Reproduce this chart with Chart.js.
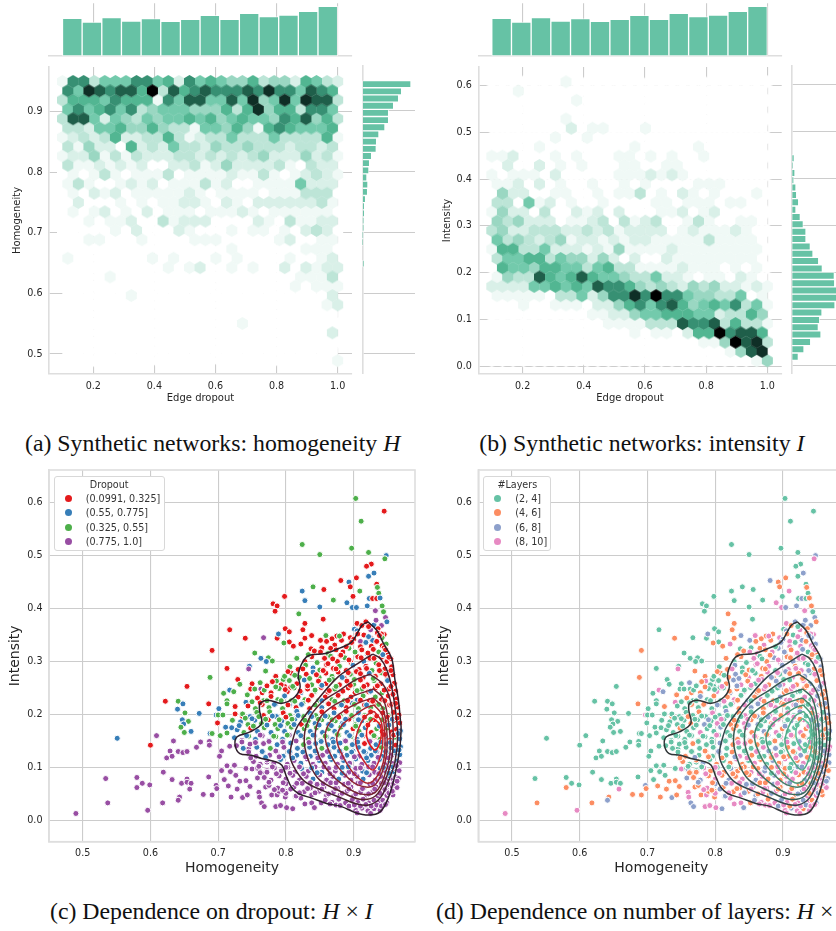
<!DOCTYPE html>
<html>
<head>
<meta charset="utf-8">
<title>Homogeneity and intensity</title>
<script src="https://cdn.jsdelivr.net/npm/chart.js@4/dist/chart.umd.min.js"></script>
<style>
  html, body { margin: 0; padding: 0; background: #fff; width: 836px; height: 931px; overflow: hidden; }
  body { position: relative; }
  canvas { position: absolute; }
  .caption { position: absolute; font-family: "Liberation Serif", serif; font-size: 23.8px; color: #111; white-space: nowrap; }
  .legend { position: absolute; top: 475.5px; height: 75px; box-sizing: border-box; border: 1px solid #d8d8d8; border-radius: 3px; background: #fff;
            font-family: "DejaVu Sans", sans-serif; font-size: 9.6px; color: #333; }
  .legend div { position: absolute; white-space: nowrap; line-height: 12px; }
  .legend i { position: absolute; width: 7px; height: 7px; border-radius: 50%; }
</style>
</head>
<body>
<script>
// Top and side histograms, bar heights
const dropoutHist = [113, 102, 115, 105, 112, 104, 110, 122, 110, 128, 118, 123, 134, 149];
const homogeneityHist = [146, 118, 109, 94, 79, 79, 68, 50, 43, 42, 28, 22, 20, 14, 17, 16, 10, 7, 7, 5, 5, 3, 2, 0, 0, 6];
const intensityHist = [0, 0, 0, 0, 0, 0, 0, 0, 0, 0, 8, 3, 10, 7, 13, 15, 21, 13, 26, 35, 43, 43, 56, 64, 81, 92, 128, 129, 140, 138, 130, 91, 84, 80, 88, 57, 37, 20];

// Hexbin shades per cell, top row first, one hex digit per cell (missing = empty)
const hexHomogeneity = [
  "177355577562756544634426532", "75987886a38678777879775876", "366657666175885585945959883",
  "57567573455544463694663775", "388525435455656456554768463", "33255644643315546416765556",
  "123236223363123353335333361", "31422062325332433433323323", "122413132223323232342224231",
  "31121212002231242222310322", "010131011130111121131012321", "13100121201113120011115222",
  "010212011111210111101113330", "02000101011221021022222231", "010120102011101112101111110",
  "00101120031222000021031122", "000001020002100010110102320", "00110001000011100000120011",
  "000000000000000010000001110", "10000000101000101000010012", "000000000010120010100202122",
  "00001000000000000000001113", "000000000000000000000010111", "00000010000000000000000002",
  "000000000000000000000000012", "", "00000000000000000100", "00000000000000000000000002", "", "", "000000000000000000000000001"
];
const hexIntensity = [
  "00000001", "001", "000000001", "", "00000001", "000000020110001", "0000001001", "00001000000001000001",
  "112000101000110101001", "02002010100011001100", "10111020000011121210", "1120201001001010000111",
  "042200110010113010210100010", "330512010010000110111011", "1422030021202000112012",
  "43422201123031230013100110", "342233322323122220121112100", "53432341221212211111311110",
  "166335222121411112111111110", "35566354424202002111111110", "065546655356331111211101010",
  "14338656865543352210110210", "222255656587764343243422121", "111110335247797a7754433501",
  "000100111022467578645657351", "00000000011224556665523364", "000000000001111333877836331",
  "000000000000010110266a7886", "00000000000000000000114a893", "00000000000000000000001489", "000000000000000000000000014"
];

// Scatter points, thousandths. Outer points read one by one, the dense core is estimated band by band.
const homogeneity = [
  903,945,911,824,850,897,922,948,946,926, 919,930,922,881,893,904,895,934,935,909,
  937,899,923,928,934,939,942,920,898,904, 890,944,932,947,949,941,945,824,840,856,
  828,870,798,781,787,784,850,819,855,828, 825,799,805,717,740,767,787,789,805,811,
  797,822,828,838,859,837,851,852,691,754, 763,774,771,780,746,745,770,713,688,729,
  732,654,750,762,785,786,796,798,807,717, 723,708,748,754,763,765,743,622,641,648,
  640,651,672,686,701,713,713,697,700,707, 647,656,649,645,699,650,660,551,600,609,
  634,674,687,687,668,629,641,648,654,624, 632,705,702,717,688,691,703,711,720,713,
  721,725,736,725,741,619,580,588,580,599, 534,537,490,596,618,632,646,654,654,660,
  658,643,641,678,691,686,697,698,705,709, 715,719,718,724,713,726,728,732,741,736,
  743,747,741,750,758,758,766,772,770,760, 761,764,768,785,792,801,810,779,787,799,
  790,799,814,822,828,838,842,852,772,745,
  905,912,918,925,930,936,941,901,933,922,
  885,895,905,915,925,935,942,875,910,928,
  860,872,882,892,900,910,918,926,934,942,948,866,
  842,853,862,874,884,893,903,912,920,929,937,945,950,880,
  816,828,838,846,857,866,876,887,896,906,915,924,933,941,949,955,
  806,818,829,840,850,860,870,879,889,899,908,918,927,937,946,956,
  798,808,820,830,840,849,859,868,877,886,895,904,914,923,932,941,950,958,
  780,793,805,816,827,838,848,859,869,879,890,900,910,920,930,940,950,960,
  768,778,790,802,812,822,832,842,852,862,872,882,892,902,912,922,932,942,952,962,
  758,767,778,788,798,808,818,828,838,848,858,868,877,886,896,905,914,923,932,941,951,963,
  744,755,765,775,785,795,805,815,825,835,844,853,862,871,880,889,898,907,916,925,934,943,953,965,
  736,747,757,767,776,786,796,806,816,826,835,844,853,862,871,880,889,898,907,916,925,934,943,951,959,967,
  733,744,754,764,774,784,794,803,813,823,833,843,853,863,873,883,893,903,912,921,930,938,946,953,960,968,
  728,738,748,758,768,778,788,798,808,818,827,836,845,854,863,872,881,890,899,908,917,926,934,942,949,956,963,969,
  724,735,745,755,765,775,785,795,805,815,824,833,842,851,860,869,878,887,896,905,914,923,931,939,947,954,961,968,
  727,737,747,757,767,777,787,797,807,817,826,835,844,853,862,871,880,889,898,907,916,925,933,941,948,955,962,969,
  745,756,766,776,786,796,806,816,826,836,845,854,863,872,881,890,899,908,917,926,934,942,949,956,962,968,
  752,762,772,782,792,802,812,822,831,840,849,858,867,876,885,894,903,912,921,930,938,946,953,959,964,968,
  760,772,783,793,803,813,823,833,843,853,863,873,883,893,903,913,922,931,939,947,953,958,963,967,
  768,778,790,800,810,820,830,840,850,860,869,878,887,896,905,914,923,932,940,948,953,958,962,966,
  775,788,800,812,824,836,846,856,866,876,886,896,906,915,924,933,941,948,953,957,961,964,
  800,815,827,838,849,860,870,880,890,900,910,919,928,936,943,949,954,958,
  858,868,878,888,898,906,914,922,930,937,943,949,874,918,
  893,903,912,921,930,939,905,925,
  868,879,897,906,922,938,947,889,
  833,851,869,881,893,902,911,921,930,943,952,862,
  803,813,825,835,845,855,864,874,883,892,901,910,919,929,938,947,955,
  772,785,799,810,821,832,843,853,864,874,884,895,905,915,925,935,945,955,958,
  750,762,772,783,793,803,813,823,833,843,853,863,872,882,891,901,910,919,928,937,946,956,962,
  740,750,760,770,780,790,800,809,818,828,838,848,858,868,878,888,897,907,916,925,934,942,950,957,964,
  731,742,752,762,772,782,792,802,812,822,831,840,849,858,867,876,885,894,903,912,921,930,938,945,952,959,966,
  735,745,755,765,775,785,795,805,815,825,834,843,852,861,870,879,888,897,906,915,924,932,940,947,954,961,967,
  748,760,770,780,790,800,810,820,829,838,847,856,865,874,883,892,901,910,919,928,936,944,951,958,963,
  762,775,786,796,806,816,826,836,846,855,865,874,883,892,901,910,919,928,937,945,952,959,964,
  783,795,807,820,832,843,853,863,873,883,893,903,913,922,931,939,946,952,957,
  865,880,893,901,910,918,926,934,941,947
];
const intensity = [
  608,584,565,521,502,514,506,500,494,484, 480,467,461,453,450,458,441,446,440,433,
  429,423,419,419,419,420,405,405,402,402, 411,394,396,383,375,368,351,433,441,436,
  415,416,423,409,405,395,403,390,380,372, 360,362,356,360,344,345,344,352,337,329,
  335,333,344,349,349,324,340,322,321,316, 306,307,300,301,291,286,282,287,270,266,
  257,253,258,260,272,263,266,253,251,246, 243,240,248,248,248,241,237,225,225,220,
  210,203,202,220,211,226,220,199,199,199, 190,187,182,176,184,166,168,155,142,160,
  150,148,149,142,138,131,130,128,130,118, 121,131,121,140,164,164,160,176,175,165,
  189,201,196,215,223,91,81,70,62,67, 79,33,13,19,33,77,70,78,72,70,
  59,44,38,49,48,82,66,60,94,77, 65,44,92,104,103,85,59,74,75,43,
  48,64,98,97,98,80,88,94,63,53, 44,33,26,26,28,24,22,48,48,44,
  55,55,45,42,31,33,24,33,110,135,
  372,368,375,360,369,362,352,361,378,366,
  352,345,358,350,344,354,345,348,338,340,
  338,331,340,330,342,328,336,329,338,330,333,325,
  320,326,315,322,318,325,316,322,314,323,318,326,315,312,
  306,300,309,298,306,310,300,307,298,309,300,306,297,308,300,305,
  290,285,293,288,284,294,287,291,283,293,285,291,283,294,286,290,
  272,278,270,276,280,270,278,272,280,269,276,281,270,278,272,279,270,275,
  262,256,264,258,265,256,263,258,266,256,263,257,265,256,264,258,264,259,
  246,241,249,243,250,241,248,243,251,242,248,244,250,241,248,243,250,241,248,244,
  231,226,234,228,235,226,233,228,236,226,233,228,236,226,233,227,235,226,233,228,235,229,
  216,211,219,213,220,211,218,213,221,211,218,213,220,211,218,213,221,211,218,213,220,211,218,214,
  201,196,204,198,205,196,203,198,206,196,203,198,205,196,203,198,206,196,203,198,205,196,203,198,204,199,
  186,181,189,183,190,181,188,183,191,181,188,183,190,181,188,183,191,181,188,183,190,181,188,183,189,184,
  171,166,174,168,175,166,173,168,176,166,173,168,175,166,173,168,176,166,173,168,175,166,173,168,174,167,172,169,
  156,151,159,153,160,151,158,153,161,151,158,153,160,151,158,153,161,151,158,153,160,151,158,153,159,152,157,154,
  141,136,144,138,145,136,143,138,146,136,143,138,145,136,143,138,146,136,143,138,145,136,143,138,144,137,142,139,
  126,121,129,123,130,121,128,123,131,121,128,123,130,121,128,123,131,121,128,123,130,121,128,123,127,124,
  111,106,114,108,115,106,113,108,116,106,113,108,115,106,113,108,116,106,113,108,115,106,113,108,112,109,
  96,91,99,93,100,91,98,93,101,91,98,93,100,91,98,93,101,91,98,93,99,92,97,94,
  81,76,84,78,85,76,83,78,86,76,83,78,85,76,83,78,86,76,83,78,84,77,82,79,
  66,61,69,63,70,61,68,63,71,61,68,63,70,61,68,63,70,61,67,63,66,62,
  51,46,54,48,55,47,53,48,55,46,53,48,54,46,52,47,51,48,
  38,34,40,33,39,34,40,33,38,34,38,33,29,28,
  24,19,23,18,22,19,14,13,
  343,348,336,352,347,349,322,328,
  313,318,305,312,303,318,307,316,306,313,308,296,
  281,274,286,268,275,283,265,286,270,279,266,277,287,268,283,276,283,
  254,252,247,253,244,254,246,255,245,253,244,255,245,253,244,254,246,253,238,
  224,222,226,219,226,218,225,219,227,218,226,220,225,218,226,219,227,218,225,219,226,219,221,
  193,192,196,191,197,190,195,191,198,189,196,191,197,190,195,191,198,190,195,191,197,190,195,191,193,
  179,160,178,161,180,159,179,161,181,160,179,161,180,159,179,162,181,160,178,161,180,160,178,162,180,161,164,
  148,129,147,130,149,131,148,130,150,129,147,131,149,130,148,131,150,129,148,130,149,131,148,130,147,131,133,
  118,102,119,101,120,100,118,101,120,99,118,101,120,100,119,101,120,99,118,101,119,100,118,101,103,
  90,72,88,71,89,70,88,71,90,69,88,71,89,70,88,71,90,70,88,71,89,70,74,
  58,57,59,52,60,52,59,50,60,51,59,50,60,50,59,51,58,52,55,
  31,28,27,29,27,30,27,29,27,30
];
// Class of each point: index into dropoutLabels / layerLabels
const dropoutClass = [
  "2022222120", "0110100022", "2010012111", "1233130120", "1200001200", "0000030100", "2000200002",
  "1212132020", "2002022001", "2202302021", "1210122122", "1212021103", "3333333333", "3333122112",
  "2000133333", "3333333333", "3333333333", "3333333333", "3333333333", "3333333333", "3333333333",
  "0003100130", "0010002031", "000200100020", "00200200102000", "2002020200102000", "2021200201002000",
  "202012020020010200", "002012002002002010", "20202102002100200200", "0202120202020201202000",
  "020212102021202012020200", "21202102121202120212020200", "12120212102121210212020200",
  "1201212121212121210210202001", "1321312132121211212101021021", "3131321311211211121101121101",
  "33133131311311311311311311", "33331331331313131313131313", "333333133133133133133133",
  "333333313331333133331333", "3333333333333333333333", "333333333333333333", "33333333333333", "33333333",
  "02001000", "200002000100", "02020020102002000", "0202002102002010000", "20212021021021020102000",
  "2122120212121201210202010", "112312121121121211210210101", "333133313131131131113111111",
  "3313331331331331331331313", "33333333133313331333133", "3333333333333333333", "3333333333"
].join("");
const layerClass = [
  "0000000230", "0202111013", "0002011232", "3032123000", "0000000101", "1000100201", "1312302010",
  "0000031010", "0002130003", "2000011000", "0001000300", "0000000000", "0000000000", "0000000000",
  "0011300010", "0133100000", "3121102100", "1100001112", "1103021013", "3223332131", "1123332100",
  "3123213020", "1320312132", "131023031321", "10313201320311", "1010301231230132", "0120131302313012",
  "011203013102312031", "100123103123013213", "01030213013201301321", "1020101302130123013021",
  "001030203102310310310321", "00001030201302130130201302", "00010203010312013020301301",
  "0010030020103102031003103012", "0000010003010310203010103010", "0000100020103013020103010203",
  "01001020130120130102301032", "10120101310310213013021312", "213101211312131021301231",
  "121312131231213312312312", "1321312313213213123123", "321312313231231321", "23132313231233", "33231333",
  "13213230", "130132133103", "10321031230131231", "0103120313021301321", "00010230130213013210312",
  "0010020301031023103102301", "000000030010230130230130210", "000001020130130210312031023",
  "1020131021310213103213021", "12313213123103123132132", "3123123132131231321", "3323133233"
].join("");

const dropoutLabels = ["(0.0991, 0.325]", "(0.55, 0.775]", "(0.325, 0.55]", "(0.775, 1.0]"];
const layerLabels = ["(2, 4]", "(4, 6]", "(6, 8]", "(8, 10]"];

// KDE contour levels, outermost first, thousandths
const kdeHomogeneity = [
  [921,934,944,956,961,966,969,970,968,961,951,939,922,902,882,860,838,818,808,801,794,784,764,749,732,725,728,747,764,761,762,774,794,813,821,818,826,835,858,877,897,912,921],
  [928,939,949,956,961,965,961,951,939,922,902,882,853,828,813,806,812,818,850,877,902,928],
  [924,943,954,958,957,948,932,909,880,850,836,827,833,853,880,902,924],
  [929,943,951,954,946,932,909,887,865,850,843,850,872,902,929],
  [929,942,948,949,942,929,906,887,870,858,865,887,909,929],
  [930,942,946,945,936,921,902,887,875,883,902,917,930],
  [930,940,943,940,929,914,903,908,918,930],
  [929,939,940,932,921,919,923,929]
];
const kdeIntensity = [
  [375,359,334,306,265,227,189,174,136,86,42,16,10,15,26,32,42,51,63,82,104,111,117,123,126,142,158,167,183,208,221,227,221,233,252,274,302,312,315,324,337,368,375],
  [314,306,284,252,214,161,111,73,42,29,32,42,57,73,98,123,161,180,233,271,293,314],
  [276,257,227,180,123,80,46,40,55,76,104,148,189,223,246,265,276],
  [248,231,189,133,86,53,50,65,89,118,155,193,218,236,248],
  [231,214,180,133,91,65,67,86,114,155,185,208,223,231],
  [218,199,161,118,86,70,86,114,152,180,199,212,218],
  [206,189,155,123,95,114,146,176,197,206],
  [193,180,155,133,150,169,184,193]
];

const hexShades = ["#ffffff", "#f0f9f6", "#d9f0e8", "#bde5d7", "#9ad7c2", "#73caac", "#52b692", "#379073", "#1f5f4a", "#0f2f26", "#000000"];
const dropoutColors = ["#e41a1c", "#377eb8", "#4daf4a", "#984ea3"];
const layerColors = ["#66c2a5", "#fc8d62", "#8da0cb", "#e78ac3"];
const kdeColorsC = ["#2e1e2b", "#44202e", "#5c2230", "#762331", "#8f2431", "#a9242f", "#c7242d", "#e41a1c"];
const kdeColorsD = ["#2f3537", "#33454a", "#375850", "#3c6b5c", "#428068", "#499576", "#52aa87", "#5cc09a"];

const TEXT = "#262626", GRID = "#cccccc", SPINE = "#dedede", BAR = "#66c2a5";
const FONT = "'DejaVu Sans', sans-serif";

if (homogeneity.length !== intensity.length || homogeneity.length !== dropoutClass.length || homogeneity.length !== layerClass.length) {
  throw new Error("point arrays differ: " + [homogeneity.length, intensity.length, dropoutClass.length, layerClass.length].join(" "));
}

// Hex sprites used as point styles
const hexSprites = hexShades.map(c => {
  const s = document.createElement("canvas");
  s.width = 13; s.height = 15;
  const g = s.getContext("2d");
  const w = 5.5, h = 6.45;
  g.translate(6.5, 7.5);
  g.beginPath();
  g.moveTo(0, -h); g.lineTo(w, -h / 2); g.lineTo(w, h / 2);
  g.lineTo(0, h); g.lineTo(-w, h / 2); g.lineTo(-w, -h / 2);
  g.closePath();
  g.fillStyle = c;
  g.fill();
  return s;
});

function newCanvas(b) {
  const c = document.createElement("canvas");
  c.width = b.w; c.height = b.h;
  c.style.left = b.x + "px"; c.style.top = b.y + "px";
  document.body.appendChild(c);
  return c;
}

// Options that pin the plot area to exact page pixels
function pin(b, a, hideX, hideY) {
  return {
    padding: {
      top: a.top - b.y,
      right: b.x + b.w - a.right,
      left: hideY ? a.left - b.x : 0,
      bottom: hideX ? b.y + b.h - a.bottom : 0
    },
    fitX: s => { s.height = b.y + b.h - a.bottom; s.paddingLeft = 0; s.paddingRight = 0; },
    fitY: s => { s.width = a.left - b.x; s.paddingTop = 0; s.paddingBottom = 0; }
  };
}

function valueAxis(range, step, fit, title, titleSize, titlePad, labels) {
  return {
    type: "linear", min: range[0], max: range[1], offset: false,
    afterFit: fit,
    border: { display: true, color: SPINE, width: 1.6 },
    grid: { color: GRID, lineWidth: 1.1, drawTicks: false, offset: false },
    ticks: {
      display: labels, stepSize: step, includeBounds: false, autoSkip: false, maxRotation: 0,
      padding: 6.5, color: TEXT, font: { family: FONT, size: 9.6 },
      callback: v => v.toFixed(1)
    },
    title: { display: !!title, text: title, color: TEXT, font: { family: FONT, size: titleSize }, padding: titlePad }
  };
}

function hexChart(b, a, rows, xRange, yRange, yLow, yStep, yTitle, yTitlePad) {
  const cells = [];
  rows.forEach((row, r) => {
    const odd = r % 2 === 1;
    const n = odd ? 26 : 27;
    const y = yLow + (rows.length - 1 - r) * yStep;
    for (let i = 0; i < n; i++) {
      cells.push({ x: 0.0991 + (i + (odd ? 0.5 : 0)) * 0.03465, y: y, shade: parseInt(row[i] || "0", 16) });
    }
  });
  // empty cells first so they never bite into their neighbours
  cells.sort((p, q) => p.shade - q.shade);
  const p = pin(b, a);
  new Chart(newCanvas(b), {
    type: "scatter",
    data: { datasets: [{ data: cells, pointRadius: 6, pointStyle: c => hexSprites[cells[c.dataIndex].shade] }] },
    options: {
      responsive: false, animation: false, layout: { padding: p.padding },
      plugins: { legend: { display: false }, tooltip: { enabled: false } },
      scales: {
        x: valueAxis(xRange, 0.2, p.fitX, "Edge dropout", 10, { top: 0, bottom: 5.5 }, true),
        y: valueAxis(yRange, 0.1, p.fitY, yTitle, 10, { top: yTitlePad, bottom: 0 }, true)
      }
    }
  });
}

function topHist(b, a, xRange) {
  const p = pin(b, a, false, true);
  new Chart(newCanvas(b), {
    type: "bar",
    data: { datasets: [{
      data: dropoutHist.map((v, i) => ({ x: 0.0991 + (i + 0.5) * 0.06435, y: v })),
      backgroundColor: BAR, borderColor: "rgba(255,255,255,0.65)", borderWidth: 1, borderSkipped: false,
      categoryPercentage: 1, barPercentage: 1
    }] },
    options: {
      responsive: false, animation: false, layout: { padding: p.padding },
      plugins: { legend: { display: false }, tooltip: { enabled: false } },
      scales: {
        x: valueAxis(xRange, 0.2, p.fitX, "", 10, 0, false),
        y: { display: false, min: 0, max: 158 }
      }
    }
  });
}

function sideHist(b, a, counts, yRange, yTop, binWidth) {
  const p = pin(b, a, true, false);
  new Chart(newCanvas(b), {
    type: "bar",
    data: { datasets: [{
      data: counts.map((v, i) => ({ x: v, y: yTop - (i + 0.5) * binWidth })),
      backgroundColor: BAR, borderColor: "rgba(255,255,255,0.65)", borderWidth: 1, borderSkipped: false,
      categoryPercentage: 1, barPercentage: 1
    }] },
    options: {
      indexAxis: "y", responsive: false, animation: false, layout: { padding: p.padding },
      plugins: { legend: { display: false }, tooltip: { enabled: false } },
      scales: {
        x: { display: false, min: 0, max: 158 },
        y: valueAxis(yRange, 0.1, p.fitY, "", 10, 0, false)
      }
    }
  });
}

// Top and right spines of the scatter panels
const boxFrame = {
  id: "boxFrame",
  beforeDatasetsDraw(chart) {
    const { ctx, chartArea: c } = chart;
    ctx.save();
    ctx.strokeStyle = SPINE;
    ctx.lineWidth = 1.6;
    ctx.strokeRect(c.left, c.top, c.right - c.left, c.bottom - c.top);
    ctx.restore();
  }
};

function scatterChart(b, a, classes, colors, kdeColors, yTitlePad) {
  const p = pin(b, a);
  const contours = kdeHomogeneity.map((hs, l) => ({
    showLine: true, tension: 0.35, pointRadius: 0, borderWidth: 1.5,
    borderColor: kdeColors[l], fill: false,
    data: hs.map((h, i) => ({ x: h / 1000, y: kdeIntensity[l][i] / 1000 }))
  }));
  new Chart(newCanvas(b), {
    type: "scatter",
    data: { datasets: contours.concat([{
      data: homogeneity.map((h, i) => ({ x: h / 1000, y: intensity[i] / 1000 })),
      pointRadius: 3, pointBorderWidth: 1, pointBorderColor: "#ffffff",
      pointBackgroundColor: c => colors[+classes[c.dataIndex]]
    }]) },
    options: {
      responsive: false, animation: false, layout: { padding: p.padding },
      plugins: { legend: { display: false }, tooltip: { enabled: false } },
      scales: {
        x: valueAxis([0.4503, 0.9905], 0.1, p.fitX, "Homogeneity", 14, { top: 0, bottom: 13.6 }, true),
        y: valueAxis([-0.0403, 0.6617], 0.1, p.fitY, "Intensity", 14, { top: yTitlePad, bottom: 0 }, true)
      }
    },
    plugins: [boxFrame]
  });
}

hexChart({ x: 0, y: 60, w: 360, h: 350 }, { left: 49, top: 66, right: 352, bottom: 374 }, hexHomogeneity,
  [0.055, 1.047], [0.467, 0.974], 0.489, 0.01537, "Homogeneity", 11);
hexChart({ x: 429, y: 60, w: 360, h: 350 }, { left: 478.3, top: 66, right: 781.7, bottom: 374 }, hexIntensity,
  [0.055, 1.047], [-0.017, 0.64], 0.0114, 0.0199, "Intensity", 12.7);
topHist({ x: 40, y: 0, w: 320, h: 60 }, { left: 49, top: 3.3, right: 352, bottom: 56 }, [0.055, 1.047]);
topHist({ x: 469, y: 0, w: 320, h: 60 }, { left: 478.3, top: 3.3, right: 781.7, bottom: 56 }, [0.055, 1.047]);
sideHist({ x: 358, y: 60, w: 62, h: 320 }, { left: 362.3, top: 66, right: 415, bottom: 374 }, homogeneityHist, [0.467, 0.974], 0.95, 0.01182);
sideHist({ x: 788, y: 60, w: 62, h: 320 }, { left: 791.7, top: 66, right: 844.4, bottom: 374 }, intensityHist, [-0.017, 0.64], 0.608, 0.01568);
scatterChart({ x: 0, y: 465, w: 425, h: 425 }, { left: 49, top: 470, right: 415, bottom: 841.7 }, dropoutClass, dropoutColors, kdeColorsC, 6.6);
scatterChart({ x: 429, y: 465, w: 425, h: 425 }, { left: 478.3, top: 470, right: 844.3, bottom: 841.7 }, layerClass, layerColors, kdeColorsD, 6.9);

function addLegend(left, width, title, labels, colors, dotX, textX) {
  const el = document.createElement("div");
  el.className = "legend";
  el.style.left = left + "px";
  el.style.width = width + "px";
  const head = document.createElement("div");
  head.textContent = title;
  head.style.cssText = "left:0;width:100%;text-align:center;top:2px";
  el.appendChild(head);
  labels.forEach((t, i) => {
    const top = 16.5 + i * 14.4;
    const dot = document.createElement("i");
    dot.style.cssText = `left:${dotX}px;top:${top + 2}px;background:${colors[i]}`;
    const txt = document.createElement("div");
    txt.textContent = t;
    txt.style.cssText = `left:${textX}px;top:${top}px`;
    el.appendChild(dot);
    el.appendChild(txt);
  });
  document.body.appendChild(el);
}
addLegend(53.7, 111, "Dropout", dropoutLabels, dropoutColors, 10, 31);
addLegend(483.3, 68, "#Layers", layerLabels, layerColors, 10, 31);

[
  ["(a) Synthetic networks: homogeneity <i>H</i>", 25, 430],
  ["(b) Synthetic networks: intensity <i>I</i>", 479.3, 430],
  ["(c) Dependence on dropout: <i>H</i> × <i>I</i>", 50, 898],
  ["(d) Dependence on number of layers: <i>H</i> × <i>I</i>", 436, 898]
].forEach(c => {
  const d = document.createElement("div");
  d.className = "caption";
  d.innerHTML = c[0];
  d.style.left = c[1] + "px";
  d.style.top = c[2] + "px";
  document.body.appendChild(d);
});
</script>
</body>
</html>
